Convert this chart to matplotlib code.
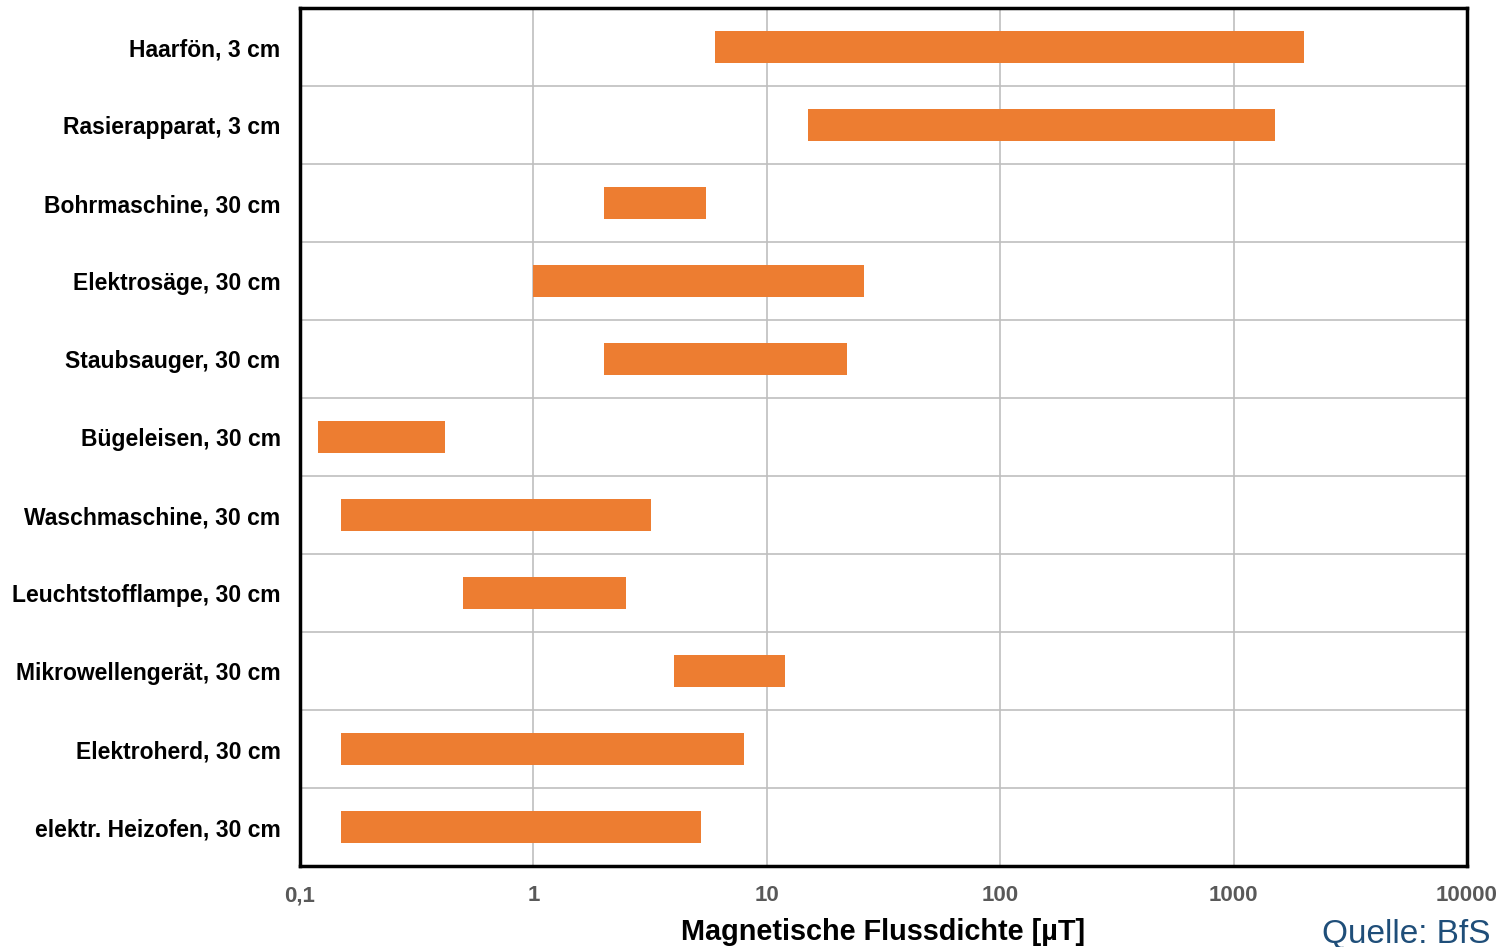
import matplotlib
matplotlib.use("Agg")
import matplotlib.pyplot as plt
import numpy as np
from matplotlib.ticker import FixedLocator, FixedFormatter, NullLocator

plt.rcParams['font.family'] = ['Liberation Sans', 'DejaVu Sans']

categories = ["Haarfön, 3 cm", "Rasierapparat, 3 cm", "Bohrmaschine, 30 cm",
              "Elektrosäge, 30 cm", "Staubsauger, 30 cm", "Bügeleisen, 30 cm",
              "Waschmaschine, 30 cm", "Leuchtstofflampe, 30 cm",
              "Mikrowellengerät, 30 cm", "Elektroherd, 30 cm",
              "elektr. Heizofen, 30 cm"]
low = [6, 15, 2, 1, 2, 0.12, 0.15, 0.5, 4, 0.15, 0.15]
high = [2000, 1500, 5.5, 26, 22, 0.42, 3.2, 2.5, 12, 8, 5.2]

xticks = [0.1, 1, 10, 100, 1000, 10000]
xticklabels = ["0,1", "1", "10", "100", "1000", "10000"]

fig = plt.figure(figsize=(15.07, 9.47), dpi=100)
ax = fig.add_axes([300/1507, 1-866/947, (1467-300)/1507, (866-8)/947])

n = len(categories)
ypos = np.arange(n)
widths = [h - l for l, h in zip(low, high)]
ax.barh(ypos, widths, left=low, height=0.4, color="#ED7D31", zorder=3)

ax.set_xscale("log")
ax.set_xlim(0.1, 10000)
ax.set_ylim(n - 0.5, -0.5)

ax.xaxis.set_major_locator(FixedLocator(xticks))
ax.xaxis.set_major_formatter(FixedFormatter(xticklabels))
ax.xaxis.set_minor_locator(NullLocator())
ax.set_yticks(ypos)
ax.set_yticklabels(categories, fontsize=16.5, fontweight="bold", color="black")
ax.set_yticks(np.arange(n + 1) - 0.5, minor=True)

ax.tick_params(axis="y", which="both", length=0, pad=14)
ax.tick_params(axis="x", which="both", length=0, pad=14, labelsize=16,
               labelcolor="#595959")
for lbl in ax.get_xticklabels():
    lbl.set_fontweight("bold")

ax.grid(True, axis="x", which="major", color="#BFBFBF", linewidth=1.2, zorder=0)
ax.grid(True, axis="y", which="minor", color="#BFBFBF", linewidth=1.2, zorder=0)
ax.grid(False, axis="y", which="major")
ax.set_axisbelow(True)

for s in ax.spines.values():
    s.set_linewidth(2.5)
    s.set_color("black")
    s.set_zorder(5)

ax.set_xlabel("Magnetische Flussdichte [µT]", fontsize=20.8, fontweight="bold",
              labelpad=8)

fig.text(1322/1507, 1 - 919/947, "Quelle: BfS", fontsize=24, color="#1F4E79",
         ha="left", va="top")

fig.savefig("out.png", dpi=100)
